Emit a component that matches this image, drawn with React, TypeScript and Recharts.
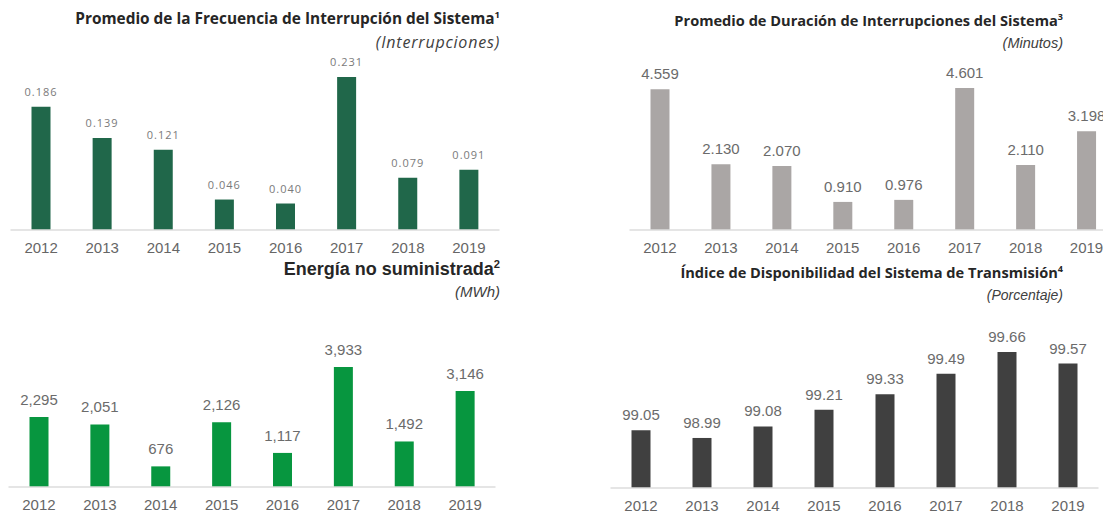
import { BarChart, Bar, XAxis, YAxis, LabelList } from 'recharts';

const years = ['2012', '2013', '2014', '2015', '2016', '2017', '2018', '2019'];
const frecuencia = [0.186, 0.139, 0.121, 0.046, 0.04, 0.231, 0.079, 0.091];
const duracion = [4.559, 2.13, 2.07, 0.91, 0.976, 4.601, 2.11, 3.198];
const energia = [2295, 2051, 676, 2126, 1117, 3933, 1492, 3146];
const disponibilidad = [99.05, 98.99, 99.08, 99.21, 99.33, 99.49, 99.66, 99.57];

const toRows = (vals: number[]) => years.map((year, i) => ({ year, value: vals[i] }));

const arial = 'Liberation Sans, Arial, sans-serif';
const yearTick = { fill: '#666', fontSize: 15, fontFamily: arial };
const valueStyle = { fill: '#6b6b6b', fontSize: 15, fontFamily: arial };
const smallValueStyle = { fill: '#7a7a7a', fontSize: 11, fontFamily: 'Open Sans, sans-serif', letterSpacing: 1 };

type MiniProps = {
  vals: number[];
  color: string;
  domain: [number, number];
  left: number;
  top: number;
  width: number;
  height: number;
  margin: { top: number; right: number; bottom: number; left: number };
  fmt: (v: number) => string;
  labelStyle: any;
  offset: number;
};

function MiniBars({ vals, color, domain, left, top, width, height, margin, fmt, labelStyle, offset }: MiniProps) {
  return (
    <div style={{ position: 'absolute', left, top }}>
      <BarChart width={width} height={height} data={toRows(vals)} margin={margin}>
        <XAxis
          dataKey="year"
          interval={0}
          height={25}
          tickLine={false}
          tickSize={6}
          tickMargin={6}
          axisLine={{ stroke: '#dcdcdc', strokeWidth: 1.5 }}
          tick={yearTick}
        />
        <YAxis hide type="number" domain={domain} allowDataOverflow />
        <Bar dataKey="value" fill={color} barSize={19} isAnimationActive={false}>
          <LabelList dataKey="value" position="top" offset={offset} formatter={(v: any) => fmt(Number(v))} style={labelStyle} />
        </Bar>
      </BarChart>
    </div>
  );
}

const titleFont = 'Open Sans, sans-serif';

function Title({ text, sup, sub, right, top, font, size, subFont, subSize, subSpacing = 0 }: any) {
  return (
    <>
      <div
        style={{
          position: 'absolute',
          right,
          top,
          fontFamily: font,
          fontWeight: 700,
          fontSize: size,
          lineHeight: '16px',
          color: '#262626',
          whiteSpace: 'nowrap',
        }}
      >
        {text}
        <sup style={{ fontSize: size * 0.62, verticalAlign: 'super', lineHeight: 0 }}>{sup}</sup>
      </div>
      <div
        style={{
          position: 'absolute',
          right,
          top: top + 23,
          fontFamily: subFont,
          fontStyle: 'italic',
          fontSize: subSize,
          letterSpacing: subSpacing,
          lineHeight: '16px',
          color: '#404040',
          whiteSpace: 'nowrap',
        }}
      >
        {sub}
      </div>
    </>
  );
}

export default function App() {
  return (
    <div style={{ position: 'absolute', left: 0, top: 0, width: 1103, height: 515, overflow: 'hidden', background: '#fff' }}>
      <Title text="Promedio de la Frecuencia de Interrupción del Sistema" sup="1" sub="(Interrupciones)"
        right={603} top={11} font={titleFont} size={15.4} subFont={titleFont} subSize={16} subSpacing={0.8} />
      <Title text="Promedio de Duración de Interrupciones del Sistema" sup="3" sub="(Minutos)"
        right={40} top={12} font={titleFont} size={14.6} subFont={arial} subSize={14.5} />
      <Title text="Energía no suministrada" sup="2" sub="(MWh)"
        right={603} top={261} font={arial} size={18} subFont={arial} subSize={15} />
      <Title text="Índice de Disponibilidad del Sistema de Transmisión" sup="4" sub="(Porcentaje)"
        right={40} top={264} font={titleFont} size={14.6} subFont={arial} subSize={14} />

      <MiniBars vals={frecuencia} color="#20674a" domain={[0, 0.231]}
        left={0} top={40} width={525} height={230}
        margin={{ top: 37, right: 25.5, bottom: 15, left: 10.5 }}
        fmt={(v) => v.toFixed(3)} labelStyle={smallValueStyle} offset={11} />
      <MiniBars vals={duracion} color="#aaa6a5" domain={[0, 4.601]}
        left={560} top={40} width={560} height={230}
        margin={{ top: 48, right: 3, bottom: 15, left: 69.5 }}
        fmt={(v) => v.toFixed(3)} labelStyle={valueStyle} offset={10} />
      <MiniBars vals={energia} color="#07963f" domain={[0, 3933]}
        left={0} top={300} width={525} height={215}
        margin={{ top: 67, right: 29.5, bottom: 3, left: 8.5 }}
        fmt={(v) => v.toLocaleString('en-US')} labelStyle={valueStyle} offset={12} />
      <MiniBars vals={disponibilidad} color="#404040" domain={[98.6, 99.66]}
        left={580} top={300} width={523} height={215}
        margin={{ top: 52, right: 4.5, bottom: 2, left: 30.5 }}
        fmt={(v) => v.toFixed(2)} labelStyle={valueStyle} offset={10} />
    </div>
  );
}
